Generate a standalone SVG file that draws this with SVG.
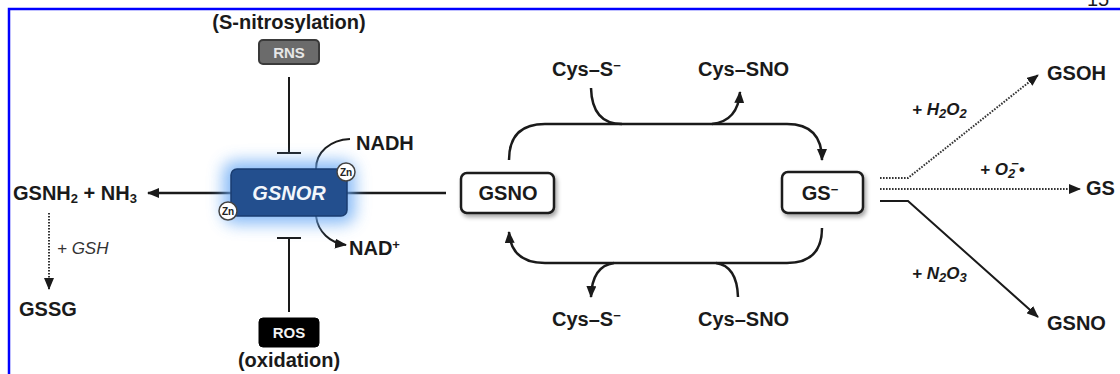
<svg xmlns="http://www.w3.org/2000/svg" width="1120" height="374" viewBox="0 0 1120 374">
<style>
  text { font-family: "Liberation Sans", Arial, sans-serif; fill: #1a1a1a; }
  .lbl { font-size: 20px; font-weight: bold; }
  .it { font-size: 17px; font-weight: bold; font-style: italic; }
  .box { fill: #ffffff; stroke: #1a1a1a; stroke-width: 2.5; }
  .ln { fill: none; stroke: #1a1a1a; stroke-width: 2.5; }
  .thin { fill: none; stroke: #1a1a1a; stroke-width: 2; }
  .dot { fill: none; stroke: #333; stroke-width: 2; stroke-dasharray: 1.6 1.4; }
  .zn circle { fill: #fff; stroke: #444; stroke-width: 1.5; }
  .zn text { font-size: 10px; font-weight: bold; fill: #222; }
  .sub { font-size: 13px; }
</style>
<defs>
  <marker id="ah" viewBox="0 0 12 10" refX="11" refY="5" markerWidth="12" markerHeight="10" markerUnits="userSpaceOnUse" orient="auto">
    <path d="M0,0 L12,5 L0,10 z" fill="#1a1a1a"/>
  </marker>
  <filter id="shadow" x="-20%" y="-20%" width="150%" height="160%">
    <feDropShadow dx="2" dy="3" stdDeviation="2" flood-color="#000" flood-opacity="0.35"/>
  </filter>
  <filter id="glow" x="-40%" y="-60%" width="180%" height="220%">
    <feGaussianBlur stdDeviation="8"/>
  </filter>
</defs>

<rect width="1120" height="374" fill="#ffffff"/>
<path d="M9,374 L9,9 L1120,9" fill="none" stroke="#0000ff" stroke-width="2.5"/>
<text x="1087" y="6" style="font-size:20px;">15</text>

<g id="connectors">
  <line class="thin" x1="289" y1="77" x2="289" y2="153"/>
  <line class="thin" x1="277" y1="153" x2="301" y2="153"/>
  <line class="thin" x1="289" y1="312" x2="289" y2="238"/>
  <line class="thin" x1="277" y1="238" x2="301" y2="238"/>
  <line class="ln" x1="446" y1="193" x2="148" y2="193" marker-end="url(#ah)"/>
  <path class="thin" d="M316,169 C316,152 330,140 350,139"/>
  <path class="thin" d="M316,216 C318,232 330,243 346,245" marker-end="url(#ah)"/>
  <line class="dot" x1="49" y1="213" x2="49" y2="289" marker-end="url(#ah)"/>
  <path class="ln" d="M509,160 Q509,124 545,124 L787,124 Q822,124 822,160" marker-end="url(#ah)"/>
  <path class="ln" d="M591,88 Q592,124 622,124"/>
  <path class="ln" d="M712,124 Q738,121 740,92" marker-end="url(#ah)"/>
  <path class="ln" d="M822,228 Q822,263 787,263 L545,263 Q511,263 509,232" marker-end="url(#ah)"/>
  <path class="ln" d="M614,263 Q592,266 591,297" marker-end="url(#ah)"/>
  <path class="ln" d="M716,263 Q737,266 738,297"/>
  <path class="dot" d="M880,178 L908,178 L1038,75" marker-end="url(#ah)"/>
  <line class="dot" x1="880" y1="189" x2="1080" y2="189" marker-end="url(#ah)"/>
  <path class="thin" d="M880,201 L908,201 L1038,317" marker-end="url(#ah)"/>
</g>

<g id="label-snitrosylation"><text class="lbl" x="289" y="29" text-anchor="middle">(S-nitrosylation)</text></g>
<g id="node-rns">
  <rect x="259" y="40" width="60" height="24" rx="4" fill="#6b6b6b" stroke="#3a3a3a" stroke-width="2"/>
  <text x="289" y="58" text-anchor="middle" style="font-size:15px;font-weight:bold;fill:#e6e6e6;">RNS</text>
</g>
<g id="node-ros">
  <rect x="259" y="318" width="60" height="29" rx="4" fill="#000" stroke="#000" stroke-width="1"/>
  <text x="289" y="338" text-anchor="middle" style="font-size:15px;font-weight:bold;fill:#f2f2f2;">ROS</text>
</g>
<g id="label-oxidation"><text class="lbl" x="289" y="367" text-anchor="middle">(oxidation)</text></g>

<g id="node-gsnor">
  <rect x="223" y="161" width="132" height="63" rx="12" fill="#6aaaf5" opacity="0.8" filter="url(#glow)"/>
  <rect x="231" y="169" width="116" height="47" rx="6" fill="#234f8e" stroke="#1a3d70" stroke-width="1.5"/>
  <text x="289" y="200" text-anchor="middle" style="font-size:20px;font-weight:bold;font-style:italic;fill:#f2f6fb;">GSNOR</text>
</g>
<g id="zn-top" class="zn">
  <circle cx="346" cy="172" r="9"/>
  <text x="346" y="175.5" text-anchor="middle">Zn</text>
</g>
<g id="zn-bottom" class="zn">
  <circle cx="228" cy="211" r="9"/>
  <text x="228" y="214.5" text-anchor="middle">Zn</text>
</g>
<g id="label-nadh"><text class="lbl" x="356" y="150">NADH</text></g>
<g id="label-nadplus"><text class="lbl" x="349" y="255">NAD<tspan class="sub" baseline-shift="6">+</tspan></text></g>

<g id="label-gsnh2"><text class="lbl" x="13" y="200">GSNH<tspan class="sub" baseline-shift="-3">2</tspan> + NH<tspan class="sub" baseline-shift="-3">3</tspan></text></g>
<g id="label-gsh"><text x="57" y="254" style="font-size:17px;font-style:italic;fill:#333;">+ GSH</text></g>
<g id="label-gssg"><text class="lbl" x="19" y="316">GSSG</text></g>

<g id="node-gsno">
  <rect class="box" x="461" y="173" width="93" height="40" rx="6" filter="url(#shadow)"/>
  <text class="lbl" x="508" y="200" text-anchor="middle">GSNO</text>
</g>
<g id="node-gs">
  <rect class="box" x="782" y="172" width="81" height="41" rx="6" filter="url(#shadow)"/>
  <text class="lbl" x="820" y="200" text-anchor="middle">GS<tspan class="sub" baseline-shift="6">−</tspan></text>
</g>

<g id="label-cys-s-top"><text class="lbl" x="552" y="76">Cys–S<tspan class="sub" baseline-shift="6">−</tspan></text></g>
<g id="label-cys-sno-top"><text class="lbl" x="698" y="76">Cys–SNO</text></g>
<g id="label-cys-s-bottom"><text class="lbl" x="552" y="326">Cys–S<tspan class="sub" baseline-shift="6">−</tspan></text></g>
<g id="label-cys-sno-bottom"><text class="lbl" x="698" y="326">Cys–SNO</text></g>

<g id="label-h2o2"><text class="it" x="912" y="115">+ H<tspan class="sub" baseline-shift="-3">2</tspan>O<tspan class="sub" baseline-shift="-3">2</tspan></text></g>
<g id="label-o2"><text class="it" x="980" y="175">+ O<tspan class="sub" baseline-shift="-3">2</tspan><tspan class="sub" dx="-4" baseline-shift="7">−</tspan>•</text></g>
<g id="label-n2o3"><text class="it" x="912" y="279">+ N<tspan class="sub" baseline-shift="-3">2</tspan>O<tspan class="sub" baseline-shift="-3">3</tspan></text></g>
<g id="node-gsoh"><text class="lbl" x="1047" y="80">GSOH</text></g>
<g id="node-gs-radical"><text class="lbl" x="1086" y="195">GS</text></g>
<g id="node-gsno-right"><text class="lbl" x="1047" y="330">GSNO</text></g>
</svg>
